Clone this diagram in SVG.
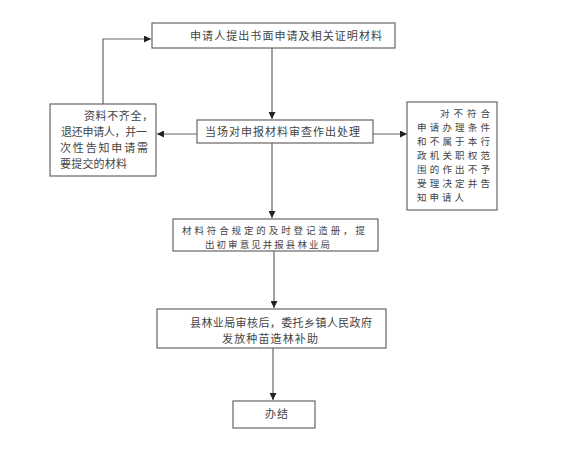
<svg xmlns="http://www.w3.org/2000/svg" width="563" height="460" viewBox="0 0 563 460">
<style>
.box{fill:#fff;stroke:#666;stroke-width:1.2}
.t{font-family:"Noto Sans CJK SC","Noto Sans CJK JP",sans-serif;font-size:11px;fill:#444}
.s{font-size:9.5px}
.ln{fill:none;stroke:#666;stroke-width:1.2}
</style>
<defs>
<marker id="ah" viewBox="0 0 10 10" refX="10" refY="5" markerWidth="7" markerHeight="7" orient="auto" markerUnits="userSpaceOnUse">
<path d="M0,0 L10,5 L0,10 z" fill="#222"/>
</marker>
</defs>
<rect width="563" height="460" fill="#fff"/>
<g id="connectors">
<path class="ln" d="M103,104 V39 H151" marker-end="url(#ah)"/>
<path class="ln" d="M272,48 V119" marker-end="url(#ah)"/>
<path class="ln" d="M197,134 H157" marker-end="url(#ah)"/>
<path class="ln" d="M373,134 H407" marker-end="url(#ah)"/>
<path class="ln" d="M272,143 V218" marker-end="url(#ah)"/>
<path class="ln" d="M274,251 V308" marker-end="url(#ah)"/>
<path class="ln" d="M273,348 V400" marker-end="url(#ah)"/>
</g>
<g id="n1">
<rect class="box" x="152" y="23" width="243" height="25"/>
<text class="t" x="190" y="40" textLength="192" lengthAdjust="spacing">申请人提出书面申请及相关证明材料</text>
</g>
<g id="n2">
<rect class="box" x="197" y="120" width="176" height="23"/>
<text class="t" x="205" y="135.5" textLength="155" lengthAdjust="spacing">当场对申报材料审查作出处理</text>
</g>
<g id="n3">
<rect class="box" x="50" y="104" width="106" height="72"/>
<text class="t" x="84" y="120" textLength="69" lengthAdjust="spacing">资料不齐全，</text>
<text class="t" x="61" y="136" textLength="86" lengthAdjust="spacing">退还申请人，并一</text>
<text class="t" x="60" y="152" textLength="88" lengthAdjust="spacing">次性告知申请需</text>
<text class="t" x="60" y="168" textLength="67" lengthAdjust="spacing">要提交的材料</text>
</g>
<g id="n4">
<rect class="box" x="407" y="102" width="90" height="108"/>
<text class="t s" x="440" y="116.5" textLength="50" lengthAdjust="spacing">对不符合</text>
<text class="t s" x="417" y="130.5" textLength="73" lengthAdjust="spacing">申请办理条件</text>
<text class="t s" x="417" y="144.5" textLength="73" lengthAdjust="spacing">和不属于本行</text>
<text class="t s" x="417" y="158.5" textLength="73" lengthAdjust="spacing">政机关职权范</text>
<text class="t s" x="417" y="172.5" textLength="73" lengthAdjust="spacing">围的作出不予</text>
<text class="t s" x="417" y="186.5" textLength="73" lengthAdjust="spacing">受理决定并告</text>
<text class="t s" x="417" y="200.5" textLength="47" lengthAdjust="spacing">知申请人</text>
</g>
<g id="n5">
<rect class="box" x="173" y="219" width="205" height="32"/>
<text class="t s" x="182" y="233.5" textLength="183" lengthAdjust="spacing">材料符合规定的及时登记造册，提</text>
<text class="t s" x="205" y="247.5" textLength="125" lengthAdjust="spacing">出初审意见并报县林业局</text>
</g>
<g id="n6">
<rect class="box" x="157" y="309" width="229" height="39"/>
<text class="t" x="190" y="327" textLength="182" lengthAdjust="spacing">县林业局审核后，委托乡镇人民政府</text>
<text class="t" x="222" y="343" textLength="96" lengthAdjust="spacing">发放种苗造林补助</text>
</g>
<g id="n7">
<rect class="box" x="233" y="401" width="82" height="27"/>
<text class="t" x="265" y="418" textLength="23" lengthAdjust="spacing">办结</text>
</g>
</svg>
